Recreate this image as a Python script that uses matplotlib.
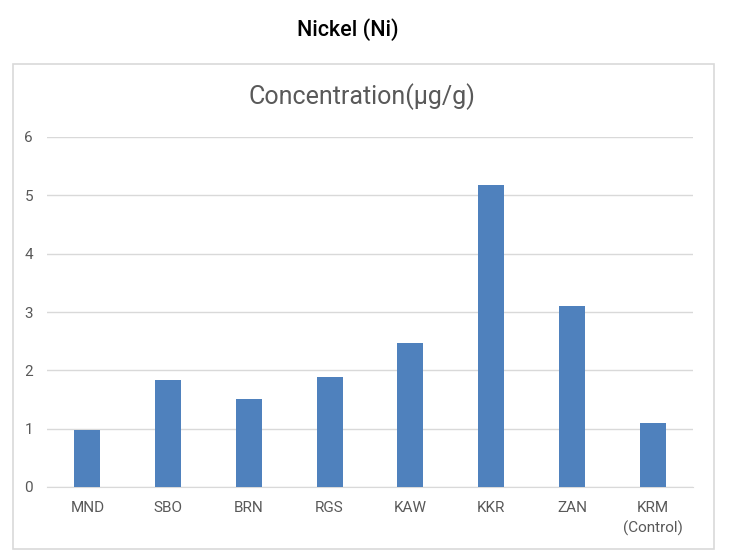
import matplotlib
matplotlib.use("Agg")
import matplotlib.pyplot as plt
from matplotlib.patches import Rectangle

sites = ["MND", "SBO", "BRN", "RGS", "KAW", "KKR", "ZAN", "KRM\n(Control)"]
nickel = [0.97, 1.83, 1.51, 1.89, 2.47, 5.18, 3.11, 1.10]
yticks = [0, 1, 2, 3, 4, 5, 6]

plt.rcParams["font.family"] = ["Roboto", "DejaVu Sans"]

W, H = 732, 560
fig = plt.figure(figsize=(W / 100, H / 100), dpi=100)

# chart frame
fig.patches.append(Rectangle((13 / W, 1 - 549 / H), 701 / W, 485 / H,
                             transform=fig.transFigure, fill=False,
                             edgecolor="#d9d9d9", linewidth=1.2))

fig.text(348 / W, 1 - 30 / H, "Nickel (Ni)", ha="center", va="center",
         fontsize=15.5, fontweight="medium", color="black")
fig.text(362 / W, 1 - 97 / H, "Concentration(µg/g)", ha="center", va="center",
         fontsize=18, color="#595959")

ax = fig.add_axes([47 / W, 1 - 487 / H, 646 / W, 350 / H])
x = range(len(sites))
ax.bar(x, nickel, width=0.32, color="#4f81bd", zorder=3)
ax.set_xlim(-0.5, len(sites) - 0.5)
ax.set_ylim(0, 6)
ax.set_yticks(yticks)
ax.set_yticklabels([str(v) for v in yticks])
ax.set_xticks(list(x))
ax.set_xticklabels(sites, linespacing=1.5)
ax.grid(axis="y", color="#d9d9d9", linewidth=1, zorder=0)
for s in ["top", "right", "left"]:
    ax.spines[s].set_visible(False)
ax.spines["bottom"].set_color("#d9d9d9")
ax.tick_params(axis="both", length=0, labelsize=11, colors="#595959")
ax.tick_params(axis="y", pad=10)
ax.tick_params(axis="x", pad=10)

fig.savefig("out.png", dpi=100)
